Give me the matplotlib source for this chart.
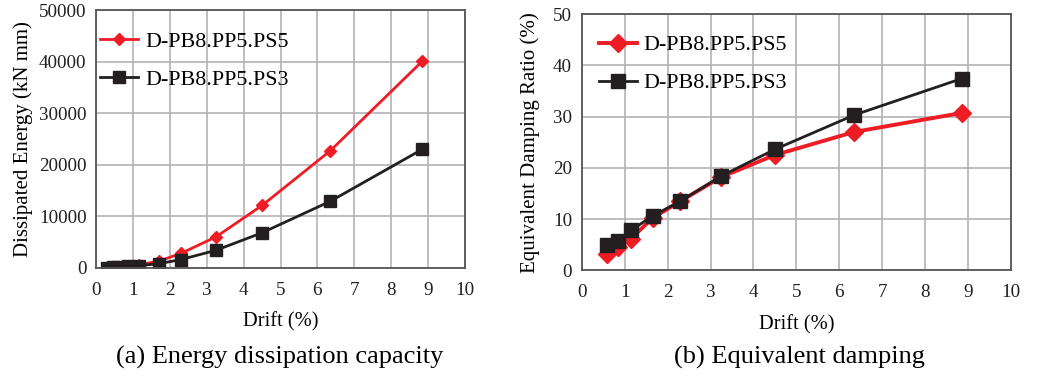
import matplotlib
matplotlib.use("Agg")
import matplotlib.pyplot as plt

plt.rcParams["font.family"] = ["Liberation Serif", "DejaVu Serif"]

# (a) dissipated energy
drift_a = [0.3, 0.45, 0.6, 0.85, 1.15, 1.7, 2.3, 3.25, 4.5, 6.35, 8.85]
energy_ps5 = [50, 100, 200, 350, 550, 1300, 2800, 6000, 12100, 22700, 40100]
energy_ps3 = [50, 100, 150, 250, 400, 800, 1600, 3400, 6800, 12900, 23000]

# (b) equivalent damping
drift_b = [0.6, 0.85, 1.15, 1.65, 2.3, 3.25, 4.5, 6.35, 8.85]
damp_ps5 = [3.2, 4.5, 6.2, 10.2, 13.5, 18.2, 22.5, 27.0, 30.7]
damp_ps3 = [5.0, 5.8, 7.8, 10.6, 13.5, 18.4, 23.6, 30.3, 37.4]

labels = ["D-PB8.PP5.PS5", "D-PB8.PP5.PS3"]
RED = "#ee1c25"
BLACK = "#231f20"

fig = plt.figure(figsize=(10.51, 3.82), dpi=100)
ax1 = fig.add_axes([0.0916, 0.2990, 0.3507, 0.6748])
ax2 = fig.add_axes([0.5535, 0.2924, 0.4085, 0.6709])


def style(ax, ylim, yticks):
    ax.set_xlim(0, 10)
    ax.set_ylim(*ylim)
    ax.set_xticks(range(0, 11))
    ax.set_yticks(yticks)
    ax.grid(True, color="#b3b3b3", linewidth=1.2)
    ax.set_axisbelow(True)
    ax.tick_params(length=0, labelsize=13.7, colors="#231f20")
    ax.tick_params(axis="x", pad=10)
    ax.tick_params(axis="y", pad=7)
    for s in ax.spines.values():
        s.set_color("#555555")
        s.set_linewidth(1.3)
    ax.set_xlabel("Drift (%)", fontsize=14.8, labelpad=10)


def add_legend(ax, anchor):
    ax.legend(loc="upper left", bbox_to_anchor=anchor, frameon=False,
              fontsize=15.8, handlelength=1.75, handletextpad=0.3,
              labelspacing=0.8, borderaxespad=0)


ax1.plot(drift_a, energy_ps5, color=RED, lw=2, marker="D", ms=6.5, label=labels[0])
ax1.plot(drift_a, energy_ps3, color=BLACK, lw=2, marker="s", ms=9, label=labels[1])
style(ax1, (0, 50000), range(0, 50001, 10000))
ax1.set_ylabel("Dissipated Energy (kN mm)", fontsize=15, labelpad=4)
add_legend(ax1, (-0.014, 0.95))

ax2.plot(drift_b, damp_ps5, color=RED, lw=2.8, marker="D", ms=9, label=labels[0])
ax2.plot(drift_b, damp_ps3, color=BLACK, lw=2, marker="s", ms=9.5, label=labels[1])
style(ax2, (0, 50), range(0, 51, 10))
ax2.set_ylabel("Equivalent Damping Ratio (%)", fontsize=15, labelpad=9)
add_legend(ax2, (0.019, 0.952))

fig.text(0.266, 0.065, "(a) Energy dissipation capacity", fontsize=19,
         ha="center", va="center")
fig.text(0.761, 0.065, "(b) Equivalent damping", fontsize=19,
         ha="center", va="center")

fig.savefig("out.png", dpi=100)
